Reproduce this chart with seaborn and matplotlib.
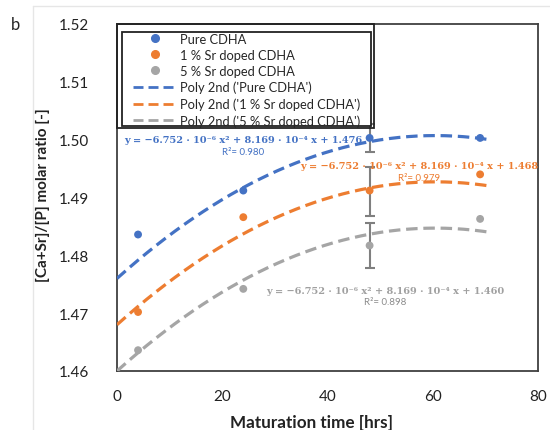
import numpy as np
import pandas as pd
import matplotlib
matplotlib.use("Agg")
import matplotlib.pyplot as plt
import seaborn as sns
from matplotlib.lines import Line2D
from matplotlib.patches import Rectangle

# ---------------- data ----------------
time_hrs = [4, 24, 48, 69]
pure_cdha = [1.4836, 1.4912, 1.5003, 1.5003]
sr1_cdha = [1.4702, 1.4866, 1.4912, 1.4940]
sr5_cdha = [1.4636, 1.4742, 1.4817, 1.4863]
err_time = [48, 48, 48]
err_vals = [1.5003, 1.4910, 1.4817]
err_size = [0.0024, 0.0042, 0.0039]

series_names = ["Pure CDHA", "1 % Sr doped CDHA", "5 % Sr doped CDHA"]
fit_names = ["Poly 2nd ('Pure CDHA')", "Poly 2nd ('1 % Sr doped CDHA')",
             "Poly 2nd ('5 % Sr doped CDHA')"]
fit_a = [-6.752e-6, -6.752e-6, -6.752e-6]
fit_b = [8.169e-4, 8.169e-4, 8.169e-4]
fit_c = [1.476, 1.468, 1.460]
fit_r2 = ["0.980", "0.979", "0.898"]
fit_xmax = 70.5

colors = ["#4472C4", "#ED7D31", "#A5A5A5"]

xticks = [0, 20, 40, 60, 80]
yticks = [1.46, 1.47, 1.48, 1.49, 1.50, 1.51, 1.52]

# ---------------- build tables ----------------
pts = pd.DataFrame({
    "time": time_hrs * 3,
    "ratio": pure_cdha + sr1_cdha + sr5_cdha,
    "series": sum([[n] * len(time_hrs) for n in series_names], []),
})
xs = np.linspace(0, fit_xmax, 200)
fit_rows = []
for name, a, b, c in zip(fit_names, fit_a, fit_b, fit_c):
    fit_rows.append(pd.DataFrame({"time": xs, "ratio": np.polyval([a, b, c], xs),
                                  "series": name}))
fits = pd.concat(fit_rows, ignore_index=True)

# ---------------- figure ----------------
sns.set_style("white")
plt.rcParams["font.family"] = ["Lato", "DejaVu Sans"]

W, H = 550, 431
fig = plt.figure(figsize=(5.5, 4.31), dpi=100)
ax = fig.add_axes([117 / W, 1 - 372 / H, 421 / W, 347 / H])

# error bars
ax.errorbar(err_time, err_vals, yerr=err_size, fmt="none", ecolor="#7F7F7F",
            elinewidth=1.5, capsize=3.5, capthick=1.5, zorder=2)

# fit curves
sns.lineplot(data=fits, x="time", y="ratio", hue="series", palette=colors,
             ax=ax, legend=False, linewidth=2.3, zorder=3, sort=False)
for ln in ax.get_lines()[-3:]:
    ln.set_dashes((3.6, 1.8))

# points
sns.scatterplot(data=pts, x="time", y="ratio", hue="series", palette=colors,
                ax=ax, legend=False, s=32, edgecolor="none", zorder=4)

ax.set_xlim(0, 80)
ax.set_ylim(1.46, 1.52)
ax.set_xticks(xticks)
ax.set_yticks(yticks)
ax.set_xticklabels([f"{v:d}" for v in xticks])
ax.set_yticklabels([f"{v:.2f}" for v in yticks])
ax.tick_params(axis="both", length=0, labelsize=11, colors="#222222")
ax.tick_params(axis="y", pad=20)
ax.tick_params(axis="x", pad=13)
for sp in ax.spines.values():
    sp.set_color("#404040")
    sp.set_linewidth(1.3)

ax.set_xlabel("Maturation time [hrs]", fontsize=12.3, fontweight="bold", color="#222222")
ax.set_ylabel("[Ca+Sr]/[P] molar ratio [-]", fontsize=11, fontweight="bold", color="#222222")
ax.xaxis.set_label_coords(0.463, -0.123)
ax.yaxis.set_label_coords(-0.158, 0.51)

# equations
eq_pos = [(24.0, 1.5001, 1.4979), (57.4, 1.4956, 1.4934), (50.9, 1.4740, 1.4720)]
eq_cols = ["#4472C4", "#ED7D31", "#A0A0A0"]
r2_cols = ["#4472C4", "#ED7D31", "#8C8C8C"]
for (xe, ye, yr), c, col, rc, r2 in zip(eq_pos, fit_c, eq_cols, r2_cols, fit_r2):
    txt = f"y = \u22126.752 \u00b7 10\u207b\u2076 x\u00b2 + 8.169 \u00b7 10\u207b\u2074 x + {c:.3f}"
    ax.text(xe, ye, txt, color=col, fontsize=7.0, fontweight="bold", ha="center",
            va="center", family=["DejaVu Serif"], zorder=5)
    ax.text(xe, yr, f"R\u00b2= {r2}", color=rc, fontsize=7, ha="center", va="center",
            family=["Lato", "DejaVu Sans"], zorder=5)

# legend frames (double border)
def px_rect(x0, y0, x1, y1, **kw):
    return Rectangle((x0 / W, 1 - y1 / H), (x1 - x0) / W, (y1 - y0) / H,
                     transform=fig.transFigure, **kw)

fig.add_artist(px_rect(122, 33, 371, 127, facecolor="white", edgecolor="#222222",
                       linewidth=1.3, zorder=5))
fig.add_artist(px_rect(117, 25, 373.5, 128.5, fill=False, edgecolor="#222222",
                       linewidth=1.3, zorder=5))

handles = [Line2D([], [], marker="o", color=c, linestyle="none", markersize=5.5)
           for c in colors]
handles += [Line2D([], [], color=c, linestyle=(0, (3.6, 1.8)), linewidth=2.0)
            for c in colors]
labels = series_names + fit_names
leg = fig.legend(handles, labels, loc="upper left",
                 bbox_to_anchor=(133 / W, 1 - 33.5 / H),
                 borderaxespad=0, fontsize=9.3, frameon=False,
                 handlelength=3.4, handletextpad=0.2, labelspacing=0.32,
                 borderpad=0.0)
leg.set_zorder(6)

# panel letter and faint border
fig.text(15 / W, 1 - 25 / H, "b", fontsize=12, ha="center", va="center")
fig.add_artist(Line2D([33 / W, 1], [1 - 7 / H, 1 - 7 / H], color="#E6E6E6", lw=1))
fig.add_artist(Line2D([33 / W, 33 / W], [0, 1 - 7 / H], color="#E6E6E6", lw=1))

fig.savefig("out.png", dpi=100)
